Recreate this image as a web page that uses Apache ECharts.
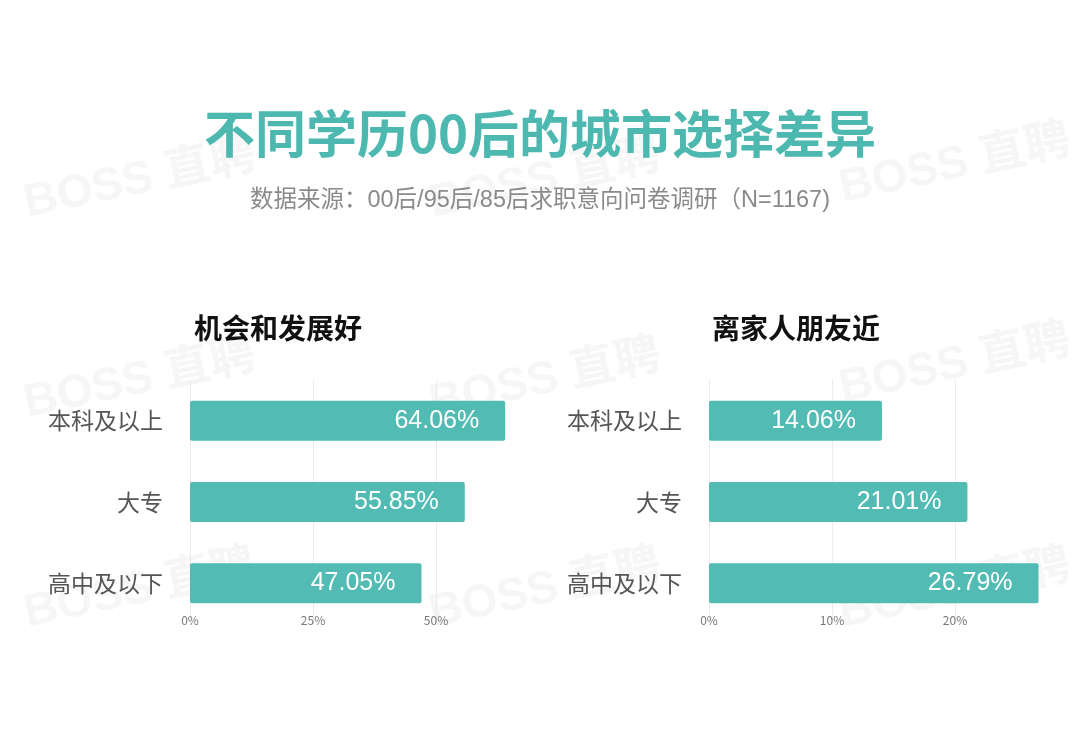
<!DOCTYPE html>
<html>
<head>
<meta charset="utf-8">
<script src="https://cdn.jsdelivr.net/npm/echarts@6/dist/echarts.min.js"></script>
<style>html,body{margin:0;padding:0;background:#fff;}#c{width:1080px;height:754px;}</style>
</head>
<body>
<div id="c"></div>
<script>
const categories = ['本科及以上', '大专', '高中及以下'];
const leftValues = [64.06, 55.85, 47.05];
const rightValues = [14.06, 21.01, 26.79];
const leftTicks = { max: 75, interval: 25 };
const rightTicks = { max: 30, interval: 10 };
const mainTitle = '不同学历00后的城市选择差异';
const subTitle = '数据来源：00后/95后/85后求职意向问卷调研（N=1167)';
const leftTitle = '机会和发展好';
const rightTitle = '离家人朋友近';

const FONT = '"Noto Sans CJK SC", "Noto Sans", sans-serif';
const MIX = '"Liberation Sans", "Noto Sans CJK SC", sans-serif';
const TEAL = '#52bcb4';

const chart = echarts.init(document.getElementById('c'), null, { renderer: 'canvas' });

function wm(x, y) {
  return {
    type: 'text', x: x, y: y, rotation: Math.PI * 12 / 180, z: -10, silent: true,
    style: { text: 'BOSS 直聘', font: 'bold 46px ' + MIX, fill: '#f6f6f6', align: 'center', verticalAlign: 'middle' }
  };
}
const wmPos = [[140,180],[545,180],[955,165],[140,380],[545,380],[955,365],[140,590],[545,590],[955,590]];

function valueAxis(idx, t) {
  return {
    type: 'value', gridIndex: idx, min: 0, max: t.max, interval: t.interval,
    axisLine: { show: false }, axisTick: { show: false },
    axisLabel: { showMaxLabel: false, color: '#777', fontSize: 12, fontFamily: FONT, margin: -10,
      formatter: v => v + '%' },
    splitLine: { show: true, showMaxLine: false, lineStyle: { color: '#ebebeb', width: 1 } }
  };
}
function catAxis(idx) {
  return {
    type: 'category', gridIndex: idx, data: categories, inverse: true,
    axisLine: { show: false }, axisTick: { show: false },
    axisLabel: { color: '#555', fontSize: 23, fontFamily: FONT, margin: 27 }
  };
}
function barSeries(idx, vals) {
  return {
    type: 'bar', xAxisIndex: idx, yAxisIndex: idx, data: vals, barWidth: 40,
    itemStyle: { color: TEAL, borderRadius: 2 },
    label: { show: true, position: 'insideRight', distance: 26, color: '#fff', fontSize: 25, fontFamily: MIX,
      formatter: p => p.value.toFixed(2) + '%' }
  };
}

chart.setOption({
  backgroundColor: '#fff',
  animation: false,
  title: [
    { text: mainTitle, left: 'center', top: 103, textStyle: { color: '#4db8b0', fontSize: 51, fontWeight: 'bold', fontFamily: FONT } },
    { text: subTitle, left: 'center', top: 184, textStyle: { color: '#8a8a8a', fontSize: 23.5, fontWeight: 'normal', fontFamily: MIX } },
    { text: leftTitle, left: 189, top: 309, textStyle: { color: '#111', fontSize: 28, fontWeight: 'bold', fontFamily: FONT } },
    { text: rightTitle, left: 707, top: 309, textStyle: { color: '#111', fontSize: 28, fontWeight: 'bold', fontFamily: FONT } }
  ],
  graphic: wmPos.map(p => wm(p[0], p[1])),
  grid: [
    { left: 190, right: 1080 - (190 + 369), top: 380, bottom: 754 - 624 },
    { left: 709, right: 1080 - (709 + 369), top: 380, bottom: 754 - 624 }
  ],
  xAxis: [valueAxis(0, leftTicks), valueAxis(1, rightTicks)],
  yAxis: [catAxis(0), catAxis(1)],
  series: [barSeries(0, leftValues), barSeries(1, rightValues)]
});
</script>
</body>
</html>
